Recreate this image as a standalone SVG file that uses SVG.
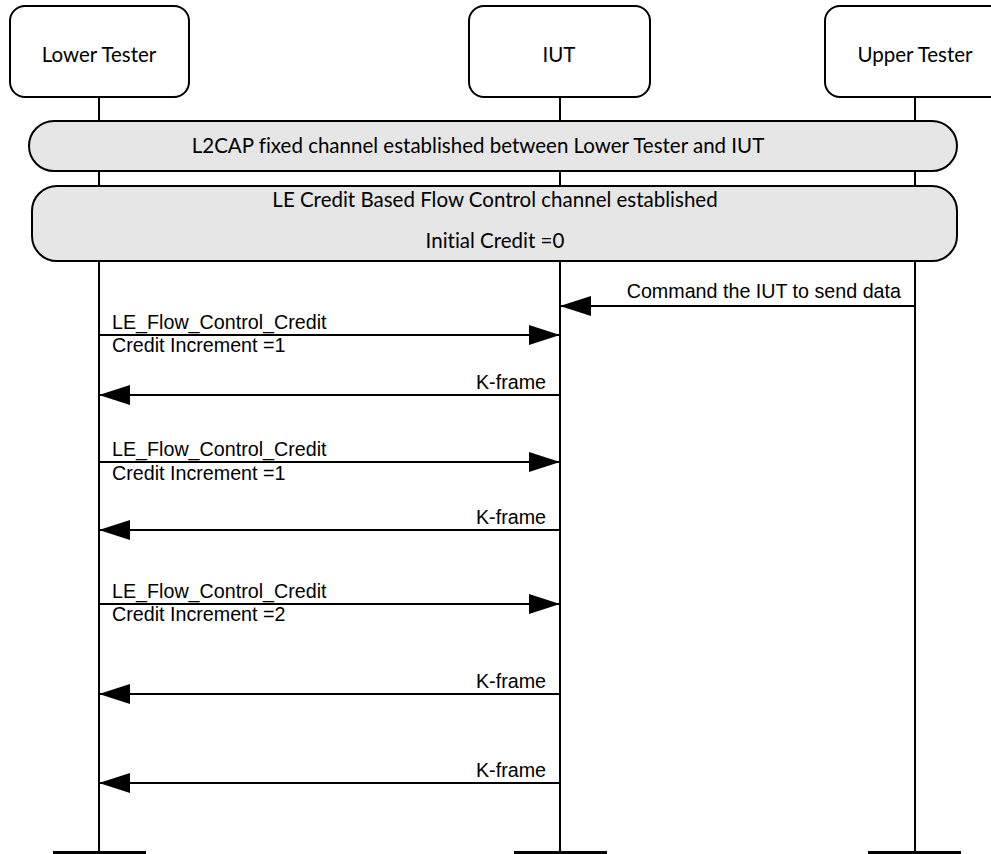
<svg xmlns="http://www.w3.org/2000/svg" width="991" height="854" viewBox="0 0 991 854">
<style>
.box{fill:#fff;stroke:#000;stroke-width:2}
.band{fill:#e6e6e6;stroke:#000;stroke-width:2}
.life{stroke:#000;stroke-width:2;fill:none}
.bar{stroke:#000;stroke-width:3}
.msg{stroke:#000;stroke-width:2;fill:none}
.cal{font-family:Lato,"Open Sans",sans-serif;font-size:20.5px;fill:#000;font-variant-ligatures:none}
.lbl{font-family:"Liberation Sans",Arial,sans-serif;font-size:19.7px;fill:#000}
</style>
<defs>
<marker id="ah" viewBox="0 0 31 20" refX="31" refY="10" markerWidth="31" markerHeight="20" markerUnits="userSpaceOnUse" orient="auto">
<path d="M0,0 L31,10 L0,20 Z" fill="#000"/>
</marker>
</defs>
<g id="lifelines">
<line class="life" x1="99" y1="97" x2="99" y2="852"/>
<line class="life" x1="560" y1="97" x2="560" y2="852"/>
<line class="life" x1="915" y1="97" x2="915" y2="852"/>
<line class="bar" x1="53" y1="852.5" x2="146" y2="852.5"/>
<line class="bar" x1="514" y1="852.5" x2="607" y2="852.5"/>
<line class="bar" x1="868" y1="852.5" x2="961" y2="852.5"/>
</g>
<g id="node-lower">
<rect class="box" x="10" y="6" width="179" height="91" rx="15"/>
<text class="cal" x="99" y="62" text-anchor="middle">Lower Tester</text>
</g>
<g id="node-iut">
<rect class="box" x="469" y="6" width="181" height="91" rx="15"/>
<text class="cal" x="559" y="62" text-anchor="middle">IUT</text>
</g>
<g id="node-upper">
<rect class="box" x="825" y="6" width="180" height="91" rx="15"/>
<text class="cal" x="915" y="62" text-anchor="middle">Upper Tester</text>
</g>
<g id="band-l2cap">
<rect class="band" x="29" y="121" width="928" height="50" rx="25"/>
<text class="cal" x="478" y="153" text-anchor="middle">L2CAP fixed channel established between Lower Tester and IUT</text>
</g>
<g id="band-lecbfc">
<rect class="band" x="32" y="186" width="925" height="75" rx="25"/>
<text class="cal" x="495" y="207" text-anchor="middle">LE Credit Based Flow Control channel established</text>
<text class="cal" x="495" y="248" text-anchor="middle">Initial Credit =0</text>
</g>
<g id="connectors">
<line class="msg" x1="915" y1="306" x2="560" y2="306" marker-end="url(#ah)"/>
<text class="lbl" x="901" y="298" text-anchor="end">Command the IUT to send data</text>
<line class="msg" x1="99" y1="335" x2="560" y2="335" marker-end="url(#ah)"/>
<text class="lbl" x="112" y="329">LE_Flow_Control_Credit</text>
<text class="lbl" x="112" y="352">Credit Increment =1</text>
<line class="msg" x1="560" y1="395" x2="99" y2="395" marker-end="url(#ah)"/>
<text class="lbl" x="546" y="389" text-anchor="end">K-frame</text>
<line class="msg" x1="99" y1="462" x2="560" y2="462" marker-end="url(#ah)"/>
<text class="lbl" x="112" y="456">LE_Flow_Control_Credit</text>
<text class="lbl" x="112" y="480">Credit Increment =1</text>
<line class="msg" x1="560" y1="530" x2="99" y2="530" marker-end="url(#ah)"/>
<text class="lbl" x="546" y="524" text-anchor="end">K-frame</text>
<line class="msg" x1="99" y1="604" x2="560" y2="604" marker-end="url(#ah)"/>
<text class="lbl" x="112" y="598">LE_Flow_Control_Credit</text>
<text class="lbl" x="112" y="621">Credit Increment =2</text>
<line class="msg" x1="560" y1="694" x2="99" y2="694" marker-end="url(#ah)"/>
<text class="lbl" x="546" y="688" text-anchor="end">K-frame</text>
<line class="msg" x1="560" y1="783" x2="99" y2="783" marker-end="url(#ah)"/>
<text class="lbl" x="546" y="777" text-anchor="end">K-frame</text>
</g>
</svg>
